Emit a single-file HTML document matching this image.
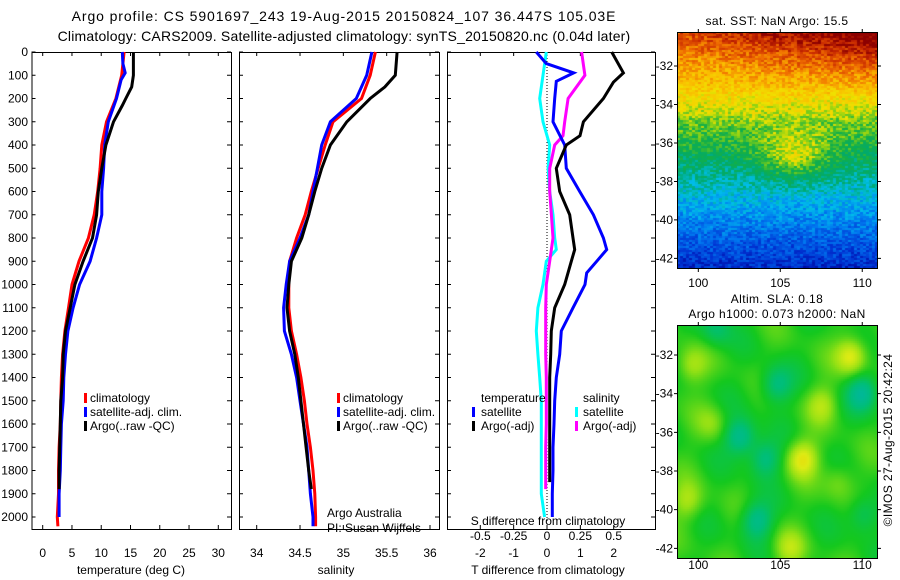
<!DOCTYPE html>
<html><head><meta charset="utf-8">
<style>
body{margin:0;background:#fff;}
#wrap{position:relative;width:900px;height:580px;overflow:hidden;font-family:"Liberation Sans",sans-serif;}
svg{position:absolute;left:0;top:0;}
canvas{position:absolute;}
text{font-family:"Liberation Sans",sans-serif;font-size:12px;fill:#000;}
.ttl{font-size:14px;letter-spacing:0.9px;}
.ttl2{font-size:14px;letter-spacing:0.2px;}
</style></head>
<body>
<div id="wrap">
<canvas id="sst" width="200" height="236" style="left:677px;top:32px"></canvas>
<canvas id="sla" width="200" height="233" style="left:677px;top:325px"></canvas>
<svg id="fig" width="900" height="580">
<text class="ttl" x="344" y="21" text-anchor="middle">Argo profile: CS 5901697_243 19-Aug-2015 20150824_107 36.447S 105.03E</text>
<text class="ttl2" x="344" y="41" text-anchor="middle">Climatology: CARS2009. Satellite-adjusted climatology: synTS_20150820.nc (0.04d later)</text>
<text x="777" y="25" text-anchor="middle" style="letter-spacing:0.4px">sat. SST: NaN Argo: 15.5</text>
<text x="777" y="303" text-anchor="middle" style="letter-spacing:0.4px">Altim. SLA: 0.18</text>
<text x="777" y="318" text-anchor="middle" style="letter-spacing:0.4px">Argo h1000: 0.073 h2000: NaN</text>
<text transform="translate(892,440) rotate(-90)" text-anchor="middle" style="letter-spacing:0.4px">©IMOS 27-Aug-2015 20:42:24</text>
<g id="g"></g>
</svg>
</div>
<script>
// ---------- data ----------
const tDepth=[0,100,200,300,400,500,600,700,800,900,1000,1100,1200,1300,1400,1500,1600,1700,1800,1900,2000,2040];
const tClim=[13.9,13.5,12.5,10.9,10.1,9.8,9.4,8.8,7.8,6.2,5.0,4.4,3.8,3.4,3.2,3.1,3.0,2.8,2.7,2.7,2.5,2.6];
const tSatDepth=[0,50,90,120,200,300,400,500,600,700,800,900,1000,1100,1200,1300,1400,1500,1600,1700,1800,1900,2000];
const tSat=[13.6,13.7,14.1,13.4,12.6,11.2,10.6,10.4,10.1,10.1,9.2,8.1,6.3,5.2,4.3,3.9,3.6,3.5,3.2,3.1,3.0,2.8,2.8];
const tArgoDepth=[0,50,100,150,200,230,300,400,500,600,700,800,900,1000,1100,1200,1300,1400,1500,1600,1700,1800,1880];
const tArgo=[15.5,15.5,15.5,15.2,14.2,13.6,12.1,10.8,10.1,9.5,9.2,8.5,6.9,5.5,4.7,3.9,3.5,3.4,3.1,3.0,2.9,2.8,2.8];
const sDepth=[0,100,200,300,400,500,600,700,800,900,1000,1100,1200,1300,1400,1500,1600,1700,1800,1900,2000,2040];
const sClim=[35.37,35.31,35.21,34.88,34.79,34.71,34.63,34.56,34.46,34.38,34.37,34.37,34.40,34.46,34.51,34.55,34.58,34.62,34.65,34.67,34.68,34.68];
const sSat=[35.33,35.27,35.15,34.85,34.75,34.70,34.65,34.60,34.50,34.38,34.34,34.31,34.32,34.40,34.46,34.50,34.54,34.58,34.60,34.62,34.65,34.65];
const sArgoDepth=[0,100,150,200,300,400,500,600,700,800,900,1000,1100,1200,1300,1400,1500,1600,1700,1800,1880];
const sArgo=[35.62,35.60,35.48,35.31,35.04,34.85,34.75,34.67,34.60,34.52,34.40,34.37,34.35,34.38,34.44,34.48,34.51,34.54,34.57,34.60,34.63];
const dTSatDepth=[0,50,90,126,200,300,400,500,600,700,800,850,900,950,1000,1100,1200,1300,1400,1500,1600,1700,1800,1900,2000];
const dTSat=[-0.32,-0.02,0.8,0.28,0.23,0.18,0.53,0.58,0.98,1.39,1.69,1.79,1.49,1.19,1.14,0.78,0.43,0.38,0.28,0.23,0.21,0.18,0.18,0.16,0.16];
const dTArgoDepth=[0,90,130,200,300,360,400,500,600,700,800,850,900,1000,1100,1200,1300,1400,1500,1600,1700,1800,1850];
const dTArgo=[1.94,2.29,1.99,1.69,1.09,0.99,0.58,0.28,0.38,0.68,0.78,0.83,0.73,0.53,0.23,0.13,0.11,0.08,0.08,0.08,0.08,0.08,0.08];
const dSSatDepth=[0,100,200,300,400,500,600,700,800,850,900,1000,1100,1200,1300,1400,1500,1600,1700,1800,1900,2000];
const dSSat=[-0.005,-0.03,-0.055,-0.03,0.02,0.008,0.02,0.045,0.058,0.07,-0.005,-0.03,-0.068,-0.08,-0.068,-0.055,-0.043,-0.043,-0.043,-0.043,-0.043,-0.018];
const dSArgoDepth=[0,100,200,300,360,400,500,600,700,800,900,1000,1100,1200,1300,1400,1500,1600,1700,1800,1880];
const dSArgo=[0.259,0.284,0.158,0.133,0.12,0.058,0.02,0.02,0.033,0.045,0.02,-0.005,-0.01,-0.01,-0.01,-0.005,-0.005,-0.005,-0.01,-0.01,-0.01];
const depthTicks=[0,100,200,300,400,500,600,700,800,900,1000,1100,1200,1300,1400,1500,1600,1700,1800,1900,2000];
const tTicks=[0,5,10,15,20,25,30];
const sTicks=[34,34.5,35,35.5,36];
const dTTicks=[-2,-1,0,1,2];
const dSTicks=[-0.5,-0.25,0,0.25,0.5];
const latTicks=[-32,-34,-36,-38,-40,-42];
const lonTicks=[100,105,110];

// ---------- helpers ----------
const NS="http://www.w3.org/2000/svg";
const G=document.getElementById('g');
function el(tag,attrs,parent){const e=document.createElementNS(NS,tag);for(const k in attrs)e.setAttribute(k,attrs[k]);(parent||G).appendChild(e);return e;}
const yTop=52,yBot=529;
const yD=d=>yTop+d*0.2325;
function lin(d0,d1,p0,p1){return v=>p0+(v-d0)*(p1-p0)/(d1-d0);}
const xT=lin(0,30,42.7,218.3);
const xS=lin(34,36,256.7,430);
const xDT=lin(-2,2,480.3,613.7);
const xDS=lin(-0.5,0.5,480.3,613.7);

function stepLine(depths,vals,xf,color,name){
  let d='';
  for(let i=0;i<vals.length;i++){const x=xf(vals[i]).toFixed(1),y=yD(depths[i]).toFixed(1);d+=(i?'L':'M')+x+','+y;}
  const p=el('path',{d:d,fill:'none',stroke:color,'stroke-width':3,'stroke-linejoin':'miter'});
  
  
}
function frame(x0,x1,name){
  const r=el('rect',{x:x0+0.5,y:yTop+0.5,width:x1-x0,height:yBot-yTop,fill:'none',stroke:'#000','stroke-width':1});
  
  
  depthTicks.forEach(d=>{const y=yD(d);
    const t=el('path',{d:`M${x0},${y}h4M${x1},${y}h-4`,stroke:'#000','stroke-width':1});
    
    
  });
}
function txt(x,y,s,anchor,name){const t=el('text',{x:x,y:y,'text-anchor':anchor||'start'});t.textContent=s;
  
  return t;}
function xTicks(vals,xf,labelY,name){vals.forEach(v=>{const x=xf(v);
  const t=el('path',{d:`M${x},${yBot}v-4M${x},${yTop}v4`,stroke:'#000'});
  
  
  if(labelY)txt(x,labelY,String(v),'middle',name);});}
function legendMark(x,y,color){const r=el('rect',{x:x,y:y-9,width:3,height:10,fill:color});
  
  }

// ---------- temperature panel ----------
frame(31.5,231,'temperature-axes');
depthTicks.forEach(d=>txt(28,yD(d)+4,String(d),'end','depth-tick-label'));
xTicks(tTicks,xT,557,'temperature-tick-label');
txt(131,574,'temperature (deg C)','middle','temperature-axis-title');
stepLine(tDepth,tClim,xT,'#ff0000','temp-climatology-line');
stepLine(tSatDepth,tSat,xT,'#0000ff','temp-satellite-line');
stepLine(tArgoDepth,tArgo,xT,'#000000','temp-argo-line');
legendMark(84,402,'#ff0000');txt(90,402,'climatology','start','legend-climatology');
legendMark(84,416,'#0000ff');txt(90,416,'satellite-adj. clim.','start','legend-satellite');
legendMark(84,430,'#000');txt(90,430,'Argo(..raw -QC)','start','legend-argo');

// ---------- salinity panel ----------
frame(239,439,'salinity-axes');
xTicks(sTicks,xS,557,'salinity-tick-label');
txt(336,574,'salinity','middle','salinity-axis-title');
stepLine(sDepth,sClim,xS,'#ff0000','sal-climatology-line');
stepLine(sDepth,sSat,xS,'#0000ff','sal-satellite-line');
stepLine(sArgoDepth,sArgo,xS,'#000000','sal-argo-line');
legendMark(337,402,'#ff0000');txt(343,402,'climatology','start','legend-climatology');
legendMark(337,416,'#0000ff');txt(343,416,'satellite-adj. clim.','start','legend-satellite');
legendMark(337,430,'#000');txt(343,430,'Argo(..raw -QC)','start','legend-argo');
txt(327,517,'Argo Australia','start','institution-label');
txt(327,532,'PI: Susan Wijffels','start','pi-label');

// ---------- difference panel ----------
frame(447,655,'difference-axes');
const z=el('line',{x1:xDT(0),x2:xDT(0),y1:yTop,y2:yBot,stroke:'#000','stroke-dasharray':'1,2'});


xTicks(dTTicks,xDT,557,'t-diff-tick-label');
dSTicks.forEach(v=>txt(xDS(v),540,String(v),'middle','s-diff-tick-label'));
txt(548,525,'S difference from climatology','middle','s-diff-axis-title');
txt(548,574,'T difference from climatology','middle','t-diff-axis-title');
stepLine(dSSatDepth,dSSat,xDS,'#00ffff','s-diff-satellite-line');
stepLine(dSArgoDepth,dSArgo,xDS,'#ff00ff','s-diff-argo-line');
stepLine(dTSatDepth,dTSat,xDT,'#0000ff','t-diff-satellite-line');
stepLine(dTArgoDepth,dTArgo,xDT,'#000000','t-diff-argo-line');
txt(481,402,'temperature','start','legend-temperature-heading');
legendMark(472,416,'#0000ff');txt(481,416,'satellite','start','legend-t-satellite');
legendMark(472,430,'#000');txt(481,430,'Argo(-adj)','start','legend-t-argo');
txt(583,402,'salinity','start','legend-salinity-heading');
legendMark(575,416,'#00ffff');txt(583,416,'satellite','start','legend-s-satellite');
legendMark(575,430,'#ff00ff');txt(583,430,'Argo(-adj)','start','legend-s-argo');

// ---------- maps ----------
const mapX=lin(98.7,110.9,677,877);
function mapAxes(top,bot,latTop,latBot,name,labY){
  const my=lin(latTop,latBot,top,bot);
  const r=el('rect',{x:677.5,y:top+0.5,width:200,height:bot-top,fill:'none',stroke:'#000'});
  
  
  latTicks.forEach(v=>{const y=my(v);
    const t=el('path',{d:`M677,${y}h-3M877,${y}h4`,stroke:'#000'});
    
    
    txt(673,y+4,String(v),'end','lat-tick-label');});
  lonTicks.forEach(v=>{const x=mapX(v);
    const t=el('path',{d:`M${x},${bot}v4M${x},${top}v-3`,stroke:'#000'});
    
    
    txt(x,labY,String(v),'middle','lon-tick-label');});
}
mapAxes(32,268,-30.23,-42.5,'sst-map-frame',287);
mapAxes(325,558,-30.45,-42.5,'sla-map-frame',569);

function interp(stops,v){v=Math.max(0,Math.min(1,v));
  for(let i=1;i<stops.length;i++){if(v<=stops[i][0]){const a=stops[i-1],b=stops[i],t=(v-a[0])/(b[0]-a[0]);
    return [0,1,2].map(k=>Math.round(a[1][k]+(b[1][k]-a[1][k])*t));}}return stops[stops.length-1][1];}
let seed=7;function rnd(){seed=(seed*16807)%2147483647;return seed/2147483647;}
// SST texture
(function(){
  const c=document.getElementById('sst').getContext('2d');
  const st=[[0,[0,0,150]],[0.1,[0,50,210]],[0.22,[0,120,240]],[0.32,[0,190,235]],[0.42,[0,170,110]],[0.5,[20,175,70]],[0.58,[140,210,20]],[0.64,[240,225,0]],[0.74,[250,190,0]],[0.84,[240,110,0]],[0.93,[200,40,0]],[1,[140,0,0]]];
  for(let y=0;y<236;y+=2)for(let x=0;x<200;x+=3){
    const fy=y/236,fx=x/200;
    let v=0.86-fy*0.78+0.14*fx*Math.max(0,0.3-fy)*4;
    if(fy<0.35)v+=0.02;
    const dx=(fx-0.58),dy=(fy-0.52);v+=0.17*Math.exp(-(dx*dx/0.03+dy*dy/0.01));
    v+=(rnd()-0.5)*0.13;
    const col=interp(st,v);c.fillStyle=`rgb(${col})`;c.fillRect(x,y,3,2);}
})();
// SLA smooth field
(function(){
  const c=document.getElementById('sla').getContext('2d');
  const st=[[0,[0,175,200]],[0.3,[0,190,120]],[0.5,[20,200,30]],[0.68,[150,225,20]],[0.82,[220,235,20]],[1,[250,200,0]]];
  // [lon, lat, amplitude]
  const blobs=[[110,-33.9,-1],[102.5,-36.2,-1],[104.7,-33.5,-0.8],[104,-37.3,-0.8],[103.5,-40.5,-0.9],[101,-30.6,-0.6],[110,-40.2,-0.6],
    [106.3,-37.3,1],[109.3,-32,1],[99.5,-32.5,0.6],[99.3,-39.5,0.6],[107.5,-34.5,0.6],[105.5,-42,0.6],[100.8,-35.5,0.4],[108.5,-38.5,0.4]];
  for(let y=0;y<233;y+=2)for(let x=0;x<200;x+=2){
    const lon=98.7+x/200*12.2,lat=-30.45-y/233*12.05;let v=0.52;
    blobs.forEach(b=>{const dx=lon-b[0],dy=lat-b[1];v+=0.32*b[2]*Math.exp(-(dx*dx+dy*dy)/0.9);});
    v+=0.08*Math.sin(lon*1.3+lat*0.7)*Math.cos(lat*1.1-lon*0.4);
    const col=interp(st,v);c.fillStyle=`rgb(${col})`;c.fillRect(x,y,2,2);}
})();
</script>
</body></html>
